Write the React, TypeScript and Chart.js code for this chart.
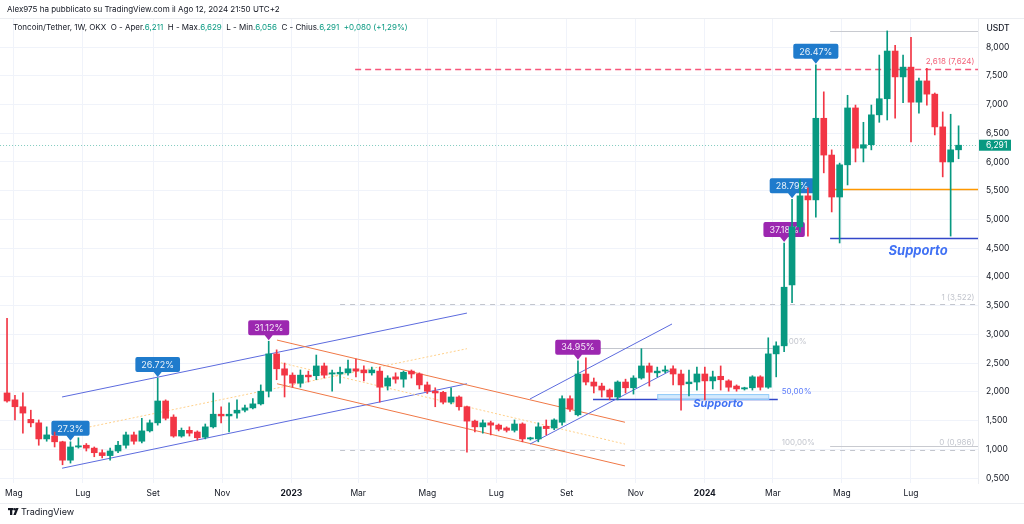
import React, { useEffect, useRef } from "react";
import { Chart, registerables } from "chart.js";

Chart.register(...registerables);

const FONT = "Inter, 'Noto Sans', sans-serif";
const GREEN = "#089981";
const RED = "#f23645";
const TEXT = "#131722";
const GRID = "#f0f3fa";
const CALLOUT_BLUE = "#1f7bcc";
const CALLOUT_PURPLE = "#9c27b0";

// Weekly candles (TONUSDT, OKX, 1W) from the week of 25 Apr 2022 to the week of 12 Aug 2024
const OPEN = [
  1.98, 1.86, 1.74, 1.52, 1.46, 1.18, 1.23, 1.13, 0.81, 1.04,
  1.07, 1.02, 0.94, 0.89, 0.97, 1.07, 1.25, 1.14, 1.32, 1.46,
  1.84, 1.56, 1.23, 1.33, 1.30, 1.21, 1.39, 1.61, 1.58, 1.63,
  1.68, 1.72, 1.79, 2.01, 2.66, 2.40, 2.29, 2.15, 2.29, 2.28,
  2.45, 2.31, 2.31, 2.33, 2.40, 2.38, 2.33, 2.36, 2.10, 2.26,
  2.22, 2.36, 2.31, 2.12, 2.01, 1.99, 1.82, 1.91, 1.74, 1.49,
  1.39, 1.46, 1.42, 1.37, 1.33, 1.44, 1.18, 1.18, 1.40, 1.37,
  1.47, 1.88, 1.60, 2.31, 2.17, 2.10, 2.03, 1.91, 2.17, 2.07,
  2.24, 2.45, 2.33, 2.36, 2.40, 2.31, 2.14, 2.17, 2.31, 2.19,
  2.27, 2.19, 2.10, 2.05, 2.07, 2.26, 2.08, 2.66, 2.80, 3.86,
  4.87, 5.41, 5.34, 6.76, 6.12, 5.39, 5.95, 6.94, 6.24, 6.30,
  6.82, 7.10, 7.93, 7.48, 7.65, 7.04, 7.41, 7.18, 6.61, 6.00,
  6.211,
];
const HIGH = [
  3.28, 1.94, 1.98, 1.68, 1.51, 1.39, 1.30, 1.14, 1.13, 1.20,
  1.10, 1.04, 0.99, 1.02, 1.14, 1.30, 1.30, 1.54, 1.51, 2.24,
  1.86, 1.60, 1.37, 1.39, 1.32, 1.44, 1.98, 1.74, 1.81, 1.86,
  1.77, 1.88, 2.12, 2.88, 2.73, 2.50, 2.33, 2.38, 2.36, 2.64,
  2.50, 2.38, 2.43, 2.55, 2.57, 2.45, 2.43, 2.43, 2.28, 2.33,
  2.36, 2.38, 2.33, 2.17, 2.07, 2.01, 2.07, 1.93, 1.75, 1.51,
  1.51, 1.49, 1.44, 1.39, 1.51, 1.46, 1.21, 1.46, 1.51, 1.53,
  1.93, 1.93, 2.54, 2.59, 2.24, 2.15, 2.05, 2.19, 2.22, 2.28,
  2.75, 2.50, 2.43, 2.45, 2.45, 2.38, 2.38, 2.43, 2.43, 2.36,
  2.45, 2.21, 2.12, 2.08, 2.28, 2.28, 2.94, 2.87, 4.59, 5.35,
  5.69, 5.55, 7.69, 7.22, 6.21, 5.98, 7.16, 6.99, 6.69, 6.99,
  7.86, 8.28, 8.03, 7.86, 8.17, 7.46, 7.63, 7.20, 6.87, 6.83,
  6.629,
];
const LOW = [
  1.82, 1.51, 1.28, 1.39, 1.07, 1.14, 1.04, 0.73, 0.76, 1.02,
  0.97, 0.87, 0.85, 0.81, 0.94, 1.02, 1.09, 1.11, 1.30, 1.42,
  1.51, 1.21, 1.21, 1.23, 1.16, 1.18, 1.37, 1.46, 1.30, 1.54,
  1.65, 1.70, 1.77, 1.91, 2.21, 1.91, 2.08, 2.08, 2.17, 2.21,
  2.24, 2.01, 2.15, 2.29, 2.26, 2.19, 2.29, 1.82, 2.03, 2.15,
  2.08, 2.24, 2.05, 1.97, 1.74, 1.79, 1.79, 1.68, 0.95, 1.30,
  1.28, 1.25, 1.32, 1.30, 1.30, 1.13, 1.16, 1.13, 1.25, 1.34,
  1.42, 1.66, 1.58, 2.12, 1.98, 1.91, 1.86, 1.86, 1.98, 1.96,
  2.22, 2.10, 2.26, 2.33, 2.12, 1.68, 1.93, 2.03, 1.86, 2.05,
  2.03, 2.01, 2.01, 2.03, 2.03, 2.03, 2.06, 2.26, 2.70, 3.55,
  4.78, 4.71, 5.04, 5.81, 5.13, 4.59, 5.60, 6.00, 6.00, 6.21,
  6.69, 6.73, 6.76, 7.03, 6.35, 6.85, 6.99, 6.47, 5.74, 4.71,
  6.056,
];
const CLOSE = [
  1.84, 1.74, 1.63, 1.46, 1.18, 1.25, 1.13, 0.81, 1.04, 1.06,
  1.02, 0.94, 0.89, 0.97, 1.07, 1.25, 1.14, 1.32, 1.46, 1.84,
  1.54, 1.23, 1.33, 1.28, 1.20, 1.39, 1.61, 1.58, 1.61, 1.68,
  1.72, 1.79, 2.01, 2.66, 2.40, 2.29, 2.15, 2.29, 2.26, 2.45,
  2.29, 2.33, 2.34, 2.40, 2.36, 2.33, 2.38, 2.08, 2.24, 2.22,
  2.34, 2.31, 2.12, 2.01, 1.98, 1.82, 1.91, 1.74, 1.49, 1.39,
  1.46, 1.42, 1.35, 1.33, 1.44, 1.18, 1.20, 1.39, 1.36, 1.51,
  1.88, 1.70, 2.31, 2.17, 2.10, 2.03, 1.91, 2.17, 2.07, 2.24,
  2.45, 2.34, 2.36, 2.38, 2.31, 2.12, 2.17, 2.31, 2.19, 2.26,
  2.21, 2.08, 2.05, 2.07, 2.26, 2.08, 2.66, 2.80, 3.82, 4.87,
  5.41, 5.34, 6.76, 6.12, 5.39, 5.95, 6.94, 6.24, 6.30, 6.82,
  7.10, 7.93, 7.48, 7.65, 7.04, 7.41, 7.18, 6.61, 6.00, 6.211,
  6.291,
];

// Time axis: month starts expressed in weeks since the first candle
const MONTH_TICKS = [0.857, 9.571, 18.43, 27.14, 35.857, 44.29, 53, 61.71, 70.57, 79.29, 88, 96.57, 105.29, 114];
const MONTH_LABELS = ["Mag", "Lug", "Set", "Nov", "2023", "Mar", "Mag", "Lug", "Set", "Nov", "2024", "Mar", "Mag", "Lug"];
const PRICE_TICKS = [0.5, 1, 1.5, 2, 2.5, 3, 3.5, 4, 4.5, 5, 5.5, 6, 6.5, 7, 7.5, 8];

const X_MIN = -0.883;
const X_MAX = 122.45;
const Y_MIN = 0.413;
const Y_MAX = 8.505;

// Drawings (week index, price)
const CHANNEL_LINES = [
  { x1: 6.94, y1: 1.91, x2: 58.0, y2: 3.37, color: "#5c6bde", width: 1, dash: [] as number[] },
  { x1: 6.94, y1: 0.67, x2: 58.0, y2: 2.14, color: "#5c6bde", width: 1, dash: [] as number[] },
  { x1: 6.94, y1: 1.29, x2: 58.0, y2: 2.75, color: "#ffd08a", width: 1, dash: [2, 2] },
  { x1: 34.05, y1: 2.9, x2: 77.93, y2: 1.47, color: "#f07846", width: 1, dash: [] as number[] },
  { x1: 34.05, y1: 2.14, x2: 77.93, y2: 0.71, color: "#f07846", width: 1, dash: [] as number[] },
  { x1: 34.05, y1: 2.52, x2: 77.93, y2: 1.09, color: "#ffd08a", width: 1, dash: [2, 2] },
  { x1: 65.95, y1: 1.875, x2: 83.86, y2: 3.18, color: "#5c6bde", width: 1, dash: [] as number[] },
  { x1: 65.95, y1: 1.09, x2: 83.86, y2: 2.38, color: "#5c6bde", width: 1, dash: [] as number[] },
];
const LEVEL_LINES = [
  { y: 0.986, x1: 42.0, x2: X_MAX, color: "#c3c6ce", width: 1, dash: [5, 5] },
  { y: 3.522, x1: 42.0, x2: X_MAX, color: "#c3c6ce", width: 1, dash: [5, 5] },
  { y: 7.624, x1: 43.9, x2: X_MAX, color: "#f7567a", width: 1.5, dash: [6, 4] },
  { y: 2.76, x1: 74.4, x2: 97.2, color: "#c3c6ce", width: 1, dash: [] as number[] },
  { y: 1.875, x1: 73.9, x2: 97.2, color: "#3347c9", width: 1.5, dash: [] as number[] },
  { y: 8.28, x1: 103.8, x2: X_MAX, color: "#c8cad0", width: 1, dash: [] as number[] },
  { y: 1.057, x1: 103.8, x2: X_MAX, color: "#c8cad0", width: 1, dash: [] as number[] },
  { y: 5.53, x1: 104.4, x2: X_MAX, color: "#ff9800", width: 1.5, dash: [] as number[] },
  { y: 4.68, x1: 103.8, x2: X_MAX, color: "#3347c9", width: 1.5, dash: [] as number[] },
];
const LEVEL_TEXTS = [
  { x: 122.0, y: 7.624, text: "2,618 (7,624)", color: "#f2637a", align: "right" },
  { x: 122.0, y: 3.522, text: "1 (3,522)", color: "#c3c6ce", align: "right" },
  { x: 122.0, y: 0.986, text: "0 (0,986)", color: "#c3c6ce", align: "right" },
  { x: 97.7, y: 2.76, text: "0,00%", color: "#c3c6ce", align: "left" },
  { x: 97.7, y: 1.875, text: "50,00%", color: "#5c7cfa", align: "left" },
  { x: 97.7, y: 0.99, text: "100,00%", color: "#c3c6ce", align: "left" },
];
const SUPPORT_BOX = { x1: 82.0, x2: 96.0, y1: 1.875, y2: 1.96 };
const SUPPORT_TEXTS = [
  { x: 89.7, y: 1.79, text: "Supporto", size: 11 },
  { x: 114.9, y: 4.45, text: "Supporto", size: 13 },
];
const CALLOUTS = [
  { i: 8, text: "27.3%", color: CALLOUT_BLUE },
  { i: 19, text: "26.72%", color: CALLOUT_BLUE },
  { i: 33, text: "31.12%", color: CALLOUT_PURPLE },
  { i: 72, text: "34.95%", color: CALLOUT_PURPLE },
  { i: 98, text: "37.18%", color: CALLOUT_PURPLE },
  { i: 99, text: "28.79%", color: CALLOUT_BLUE },
  { i: 102, text: "26.47%", color: CALLOUT_BLUE },
];

const fmt = (v: number) => v.toFixed(3).replace(".", ",");

const overlayPlugin = {
  id: "overlay",
  beforeDatasetsDraw(chart: any) {
    const { ctx, chartArea: a } = chart;
    const xs = chart.scales.x;
    const ys = chart.scales.y;
    const X = (v: number) => xs.getPixelForValue(v);
    const Y = (v: number) => ys.getPixelForValue(v);
    ctx.save();
    ctx.beginPath();
    ctx.rect(a.left, a.top, a.right - a.left, a.bottom - a.top);
    ctx.clip();

    // current price line
    const last = CLOSE[CLOSE.length - 1];
    ctx.strokeStyle = "rgba(8,153,129,0.5)";
    ctx.lineWidth = 1;
    ctx.setLineDash([1, 2]);
    ctx.beginPath();
    ctx.moveTo(a.left, Math.round(Y(last)) + 0.5);
    ctx.lineTo(a.right, Math.round(Y(last)) + 0.5);
    ctx.stroke();

    for (const l of LEVEL_LINES) {
      ctx.strokeStyle = l.color;
      ctx.lineWidth = l.width;
      ctx.setLineDash(l.dash);
      const py = Math.round(Y(l.y)) + 0.5;
      ctx.beginPath();
      ctx.moveTo(X(l.x1), py);
      ctx.lineTo(X(l.x2), py);
      ctx.stroke();
    }
    ctx.setLineDash([]);

    // support box
    const bx1 = X(SUPPORT_BOX.x1), bx2 = X(SUPPORT_BOX.x2);
    const by1 = Y(SUPPORT_BOX.y2), by2 = Y(SUPPORT_BOX.y1);
    ctx.fillStyle = "rgba(144,202,249,0.4)";
    ctx.fillRect(bx1, by1, bx2 - bx1, by2 - by1);
    ctx.strokeStyle = "#90caf9";
    ctx.lineWidth = 1;
    ctx.strokeRect(bx1 + 0.5, by1 + 0.5, bx2 - bx1, by2 - by1);

    ctx.font = `8px ${FONT}`;
    ctx.textBaseline = "bottom";
    for (const t of LEVEL_TEXTS) {
      ctx.fillStyle = t.color;
      ctx.textAlign = t.align as CanvasTextAlign;
      ctx.fillText(t.text, X(t.x), Y(t.y) - 3);
    }

    for (const s of CHANNEL_LINES) {
      ctx.strokeStyle = s.color;
      ctx.lineWidth = s.width;
      ctx.setLineDash(s.dash);
      ctx.beginPath();
      ctx.moveTo(X(s.x1), Y(s.y1));
      ctx.lineTo(X(s.x2), Y(s.y2));
      ctx.stroke();
    }
    ctx.setLineDash([]);

    // callouts
    ctx.font = `9px ${FONT}`;
    ctx.textAlign = "center";
    ctx.textBaseline = "middle";
    for (const c of CALLOUTS) {
      const cx = X(c.i);
      const tip = Y(HIGH[c.i]) - 1;
      const w = ctx.measureText(c.text).width + 12;
      const h = 15;
      const bottom = tip - 5;
      const left = cx - w / 2;
      const top = bottom - h;
      ctx.fillStyle = c.color;
      ctx.beginPath();
      ctx.moveTo(left + 2, top);
      ctx.lineTo(left + w - 2, top);
      ctx.quadraticCurveTo(left + w, top, left + w, top + 2);
      ctx.lineTo(left + w, bottom - 2);
      ctx.quadraticCurveTo(left + w, bottom, left + w - 2, bottom);
      ctx.lineTo(cx + 4, bottom);
      ctx.lineTo(cx, tip);
      ctx.lineTo(cx - 4, bottom);
      ctx.lineTo(left + 2, bottom);
      ctx.quadraticCurveTo(left, bottom, left, bottom - 2);
      ctx.lineTo(left, top + 2);
      ctx.quadraticCurveTo(left, top, left + 2, top);
      ctx.closePath();
      ctx.fill();
      ctx.fillStyle = "rgba(255,255,255,0.9)";
      ctx.fillText(c.text, cx, top + h / 2 + 0.5);
    }

    for (const s of SUPPORT_TEXTS) {
      ctx.font = `italic bold ${s.size}px ${FONT}`;
      ctx.fillStyle = "#4071f4";
      ctx.textAlign = "center";
      ctx.textBaseline = "middle";
      ctx.fillText(s.text, X(s.x), Y(s.y));
    }
    ctx.restore();
  },
  afterDraw(chart: any) {
    const { ctx, chartArea: a } = chart;
    const ys = chart.scales.y;
    const n = CLOSE.length - 1;
    ctx.save();
    // pane borders
    ctx.strokeStyle = "#eceef2";
    ctx.lineWidth = 1;
    ctx.beginPath();
    ctx.moveTo(0, 18.5);
    ctx.lineTo(1024, 18.5);
    ctx.moveTo(0, 503.5);
    ctx.lineTo(1024, 503.5);
    ctx.stroke();

    // header
    ctx.textBaseline = "middle";
    ctx.textAlign = "left";
    ctx.font = `8px ${FONT}`;
    ctx.fillStyle = TEXT;
    ctx.fillText("Alex975 ha pubblicato su TradingView.com il Ago 12, 2024 21:50 UTC+2", 7, 10);

    const chg = CLOSE[n] - CLOSE[n - 1];
    const pct = (chg / CLOSE[n - 1]) * 100;
    const parts: [string, string][] = [
      ["Toncoin/Tether, 1W, OKX", TEXT],
      ["  O - Aper.", TEXT],
      [fmt(OPEN[n]), GREEN],
      ["  H - Max.", TEXT],
      [fmt(HIGH[n]), GREEN],
      ["  L - Min.", TEXT],
      [fmt(LOW[n]), GREEN],
      ["  C - Chius.", TEXT],
      [fmt(CLOSE[n]), GREEN],
      [`  ${chg >= 0 ? "+" : ""}${fmt(chg)} (${chg >= 0 ? "+" : ""}${pct.toFixed(2).replace(".", ",")}%)`, GREEN],
    ];
    let cx = 13;
    for (const [t, c] of parts) {
      ctx.fillStyle = c;
      ctx.fillText(t, cx, 28);
      cx += ctx.measureText(t).width;
    }

    // USDT label
    ctx.font = `500 8.5px ${FONT}`;
    ctx.fillStyle = TEXT;
    ctx.textAlign = "center";
    ctx.fillText("USDT", 998, 28);

    // last price tag
    const py = ys.getPixelForValue(CLOSE[n]);
    ctx.fillStyle = GREEN;
    ctx.fillRect(a.right + 1, py - 5.5, 32, 11);
    ctx.fillStyle = "#ffffff";
    ctx.font = `8.5px ${FONT}`;
    ctx.textAlign = "left";
    ctx.fillText(fmt(CLOSE[n]), a.right + 8, py + 0.5);

    // footer logo
    ctx.fillStyle = TEXT;
    ctx.fillRect(8, 508, 5.5, 2.2);
    ctx.fillRect(10, 508, 2.3, 7);
    ctx.beginPath();
    ctx.arc(14.8, 509.2, 1.2, 0, Math.PI * 2);
    ctx.fill();
    ctx.beginPath();
    ctx.moveTo(16.2, 508);
    ctx.lineTo(18.6, 508);
    ctx.lineTo(15.8, 515);
    ctx.lineTo(13.4, 515);
    ctx.closePath();
    ctx.fill();
    ctx.font = `9px ${FONT}`;
    ctx.textAlign = "left";
    ctx.fillText("TradingView", 21, 512);
    ctx.restore();
  },
};

export default function App() {
  const ref = useRef<HTMLCanvasElement | null>(null);
  useEffect(() => {
    document.body.style.margin = "0";
    const idx = OPEN.map((_, i) => i);
    const colors = idx.map((i) => (CLOSE[i] >= OPEN[i] ? GREEN : RED));
    const chart = new Chart(ref.current as HTMLCanvasElement, {
      type: "bar",
      data: {
        datasets: [
          {
            label: "wick",
            data: idx.map((i) => ({ x: i, y: [LOW[i], HIGH[i]] })) as any,
            backgroundColor: colors,
            barThickness: 1,
            grouped: false,
            order: 2,
          } as any,
          {
            label: "body",
            data: idx.map((i) => ({ x: i, y: [Math.min(OPEN[i], CLOSE[i]), Math.max(OPEN[i], CLOSE[i])] })) as any,
            backgroundColor: colors,
            barThickness: 6,
            minBarLength: 1,
            grouped: false,
            order: 1,
          } as any,
        ],
      },
      options: {
        animation: false,
        responsive: false,
        events: [],
        layout: { padding: { top: 18, left: 0, right: 0, bottom: 0 } },
        plugins: { legend: { display: false }, tooltip: { enabled: false }, title: { display: false } },
        scales: {
          x: {
            type: "linear",
            min: X_MIN,
            max: X_MAX,
            offset: false,
            afterBuildTicks: (scale: any) => {
              scale.ticks = MONTH_TICKS.map((v) => ({ value: v }));
            },
            afterFit: (scale: any) => {
              scale.height = 41;
            },
            grid: { color: GRID, drawTicks: false, offset: false },
            border: { display: false },
            ticks: {
              autoSkip: false,
              maxRotation: 0,
              padding: 5,
              color: TEXT,
              callback: (_v: any, i: number) => MONTH_LABELS[i],
              font: (c: any) => ({
                family: FONT,
                size: 8.5,
                weight: /^\d{4}$/.test(MONTH_LABELS[c.index] || "") ? "bold" : "normal",
              }),
            },
          } as any,
          y: {
            type: "linear",
            position: "right",
            min: Y_MIN,
            max: Y_MAX,
            afterBuildTicks: (scale: any) => {
              scale.ticks = PRICE_TICKS.map((v) => ({ value: v }));
            },
            afterFit: (scale: any) => {
              scale.width = 46;
            },
            grid: { color: GRID, drawTicks: false },
            border: { display: true, color: "#eceef2" },
            ticks: {
              autoSkip: false,
              padding: 8,
              color: TEXT,
              font: { family: FONT, size: 8.5 },
              callback: (v: any) => fmt(Number(v)),
            },
          } as any,
        },
      },
      plugins: [overlayPlugin],
    });
    return () => chart.destroy();
  }, []);
  return (
    <div style={{ width: 1024, height: 524, position: "relative", background: "#ffffff" }}>
      <canvas ref={ref} width={1024} height={524} style={{ display: "block", width: 1024, height: 524 }} />
    </div>
  );
}
